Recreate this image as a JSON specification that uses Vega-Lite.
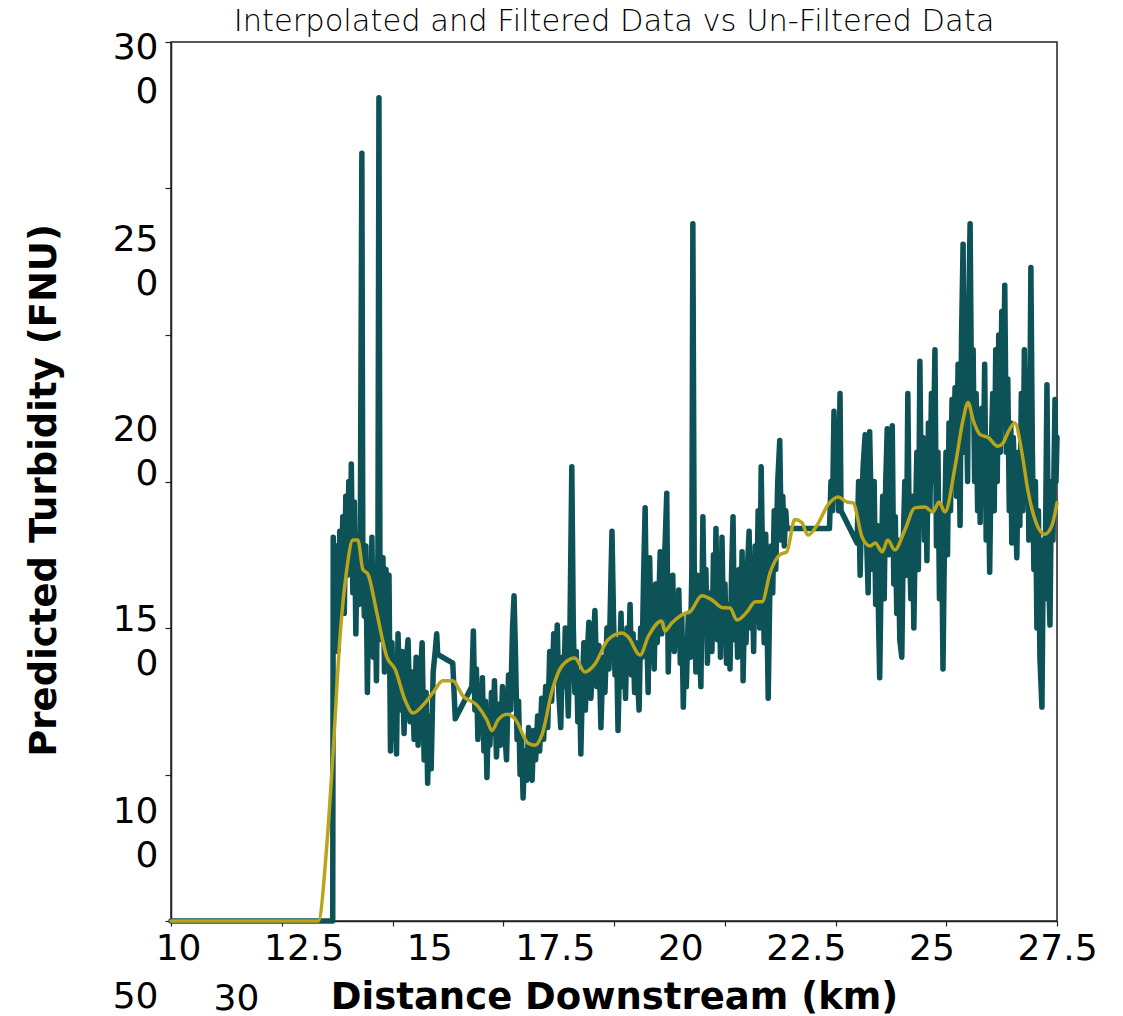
{
  "$schema": "https://vega.github.io/schema/vega-lite/v6.json",
  "width": 886,
  "height": 879,
  "autosize": {"type": "none"},
  "padding": {"left": 171, "top": 42, "right": 66, "bottom": 95},
  "background": "white",
  "title": {
    "text": "Interpolated and Filtered Data vs Un-Filtered Data",
    "font": "DejaVu Sans",
    "fontSize": 30.5,
    "fontWeight": 200,
    "color": "#000",
    "anchor": "middle",
    "frame": "group",
    "baseline": "alphabetic",
    "offset": -37
  },
  "datasets": {
    "raw": [
      {"distance_km":9.86,"turbidity_fnu":0},{"distance_km":13.08,"turbidity_fnu":0},{"distance_km":13.09,"turbidity_fnu":131},
      {"distance_km":13.12,"turbidity_fnu":100},{"distance_km":13.15,"turbidity_fnu":128},{"distance_km":13.18,"turbidity_fnu":92},
      {"distance_km":13.22,"turbidity_fnu":133},{"distance_km":13.25,"turbidity_fnu":112},{"distance_km":13.28,"turbidity_fnu":138},
      {"distance_km":13.31,"turbidity_fnu":105},{"distance_km":13.34,"turbidity_fnu":145},{"distance_km":13.37,"turbidity_fnu":118},
      {"distance_km":13.40,"turbidity_fnu":150},{"distance_km":13.43,"turbidity_fnu":125},{"distance_km":13.45,"turbidity_fnu":156},
      {"distance_km":13.48,"turbidity_fnu":112},{"distance_km":13.51,"turbidity_fnu":143},{"distance_km":13.54,"turbidity_fnu":98},
      {"distance_km":13.57,"turbidity_fnu":130},{"distance_km":13.60,"turbidity_fnu":108},{"distance_km":13.63,"turbidity_fnu":135},
      {"distance_km":13.66,"turbidity_fnu":262},{"distance_km":13.68,"turbidity_fnu":120},{"distance_km":13.71,"turbidity_fnu":104},
      {"distance_km":13.74,"turbidity_fnu":128},{"distance_km":13.77,"turbidity_fnu":78},{"distance_km":13.80,"turbidity_fnu":115},
      {"distance_km":13.83,"turbidity_fnu":95},{"distance_km":13.86,"turbidity_fnu":131},{"distance_km":13.89,"turbidity_fnu":90},
      {"distance_km":13.92,"turbidity_fnu":118},{"distance_km":13.95,"turbidity_fnu":82},{"distance_km":13.98,"turbidity_fnu":126},
      {"distance_km":14.00,"turbidity_fnu":281},{"distance_km":14.02,"turbidity_fnu":118},{"distance_km":14.05,"turbidity_fnu":96},
      {"distance_km":14.08,"turbidity_fnu":124},{"distance_km":14.11,"turbidity_fnu":85},{"distance_km":14.14,"turbidity_fnu":120},
      {"distance_km":14.17,"turbidity_fnu":88},{"distance_km":14.20,"turbidity_fnu":118},{"distance_km":14.23,"turbidity_fnu":58},
      {"distance_km":14.26,"turbidity_fnu":95},{"distance_km":14.29,"turbidity_fnu":62},{"distance_km":14.32,"turbidity_fnu":90},
      {"distance_km":14.35,"turbidity_fnu":57},{"distance_km":14.38,"turbidity_fnu":98},{"distance_km":14.42,"turbidity_fnu":72},
      {"distance_km":14.46,"turbidity_fnu":92},{"distance_km":14.50,"turbidity_fnu":64},{"distance_km":14.54,"turbidity_fnu":88},
      {"distance_km":14.58,"turbidity_fnu":96},{"distance_km":14.62,"turbidity_fnu":68},{"distance_km":14.66,"turbidity_fnu":85},
      {"distance_km":14.70,"turbidity_fnu":62},{"distance_km":14.74,"turbidity_fnu":90},{"distance_km":14.78,"turbidity_fnu":60},
      {"distance_km":14.82,"turbidity_fnu":82},{"distance_km":14.86,"turbidity_fnu":95},{"distance_km":14.90,"turbidity_fnu":55},
      {"distance_km":14.94,"turbidity_fnu":78},{"distance_km":14.97,"turbidity_fnu":47},{"distance_km":15.00,"turbidity_fnu":70},
      {"distance_km":15.04,"turbidity_fnu":52},{"distance_km":15.08,"turbidity_fnu":85},{"distance_km":15.12,"turbidity_fnu":92},
      {"distance_km":15.15,"turbidity_fnu":98},{"distance_km":15.17,"turbidity_fnu":91},{"distance_km":15.47,"turbidity_fnu":88},
      {"distance_km":15.52,"turbidity_fnu":69},{"distance_km":15.85,"turbidity_fnu":80},{"distance_km":15.88,"turbidity_fnu":99},
      {"distance_km":15.91,"turbidity_fnu":72},{"distance_km":15.94,"turbidity_fnu":86},{"distance_km":15.97,"turbidity_fnu":62},
      {"distance_km":16.00,"turbidity_fnu":80},{"distance_km":16.03,"turbidity_fnu":66},{"distance_km":16.06,"turbidity_fnu":83},
      {"distance_km":16.09,"turbidity_fnu":58},{"distance_km":16.12,"turbidity_fnu":75},{"distance_km":16.15,"turbidity_fnu":49},
      {"distance_km":16.18,"turbidity_fnu":70},{"distance_km":16.21,"turbidity_fnu":60},{"distance_km":16.24,"turbidity_fnu":78},
      {"distance_km":16.27,"turbidity_fnu":64},{"distance_km":16.30,"turbidity_fnu":82},{"distance_km":16.34,"turbidity_fnu":56},
      {"distance_km":16.38,"turbidity_fnu":74},{"distance_km":16.42,"turbidity_fnu":60},{"distance_km":16.46,"turbidity_fnu":80},
      {"distance_km":16.50,"turbidity_fnu":66},{"distance_km":16.54,"turbidity_fnu":55},{"distance_km":16.58,"turbidity_fnu":84},
      {"distance_km":16.62,"turbidity_fnu":72},{"distance_km":16.66,"turbidity_fnu":100},{"distance_km":16.69,"turbidity_fnu":111},
      {"distance_km":16.72,"turbidity_fnu":90},{"distance_km":16.75,"turbidity_fnu":62},{"distance_km":16.78,"turbidity_fnu":75},
      {"distance_km":16.81,"turbidity_fnu":50},{"distance_km":16.84,"turbidity_fnu":62},{"distance_km":16.87,"turbidity_fnu":42},
      {"distance_km":16.90,"turbidity_fnu":58},{"distance_km":16.94,"turbidity_fnu":48},{"distance_km":16.98,"turbidity_fnu":66},
      {"distance_km":17.02,"turbidity_fnu":52},{"distance_km":17.05,"turbidity_fnu":48},{"distance_km":17.08,"turbidity_fnu":65},
      {"distance_km":17.12,"turbidity_fnu":55},{"distance_km":17.16,"turbidity_fnu":70},{"distance_km":17.20,"turbidity_fnu":58},
      {"distance_km":17.24,"turbidity_fnu":76},{"distance_km":17.28,"turbidity_fnu":62},{"distance_km":17.32,"turbidity_fnu":80},
      {"distance_km":17.36,"turbidity_fnu":66},{"distance_km":17.40,"turbidity_fnu":92},{"distance_km":17.44,"turbidity_fnu":75},
      {"distance_km":17.48,"turbidity_fnu":98},{"distance_km":17.52,"turbidity_fnu":84},{"distance_km":17.55,"turbidity_fnu":101},
      {"distance_km":17.58,"turbidity_fnu":78},{"distance_km":17.62,"turbidity_fnu":66},{"distance_km":17.65,"turbidity_fnu":90},
      {"distance_km":17.68,"turbidity_fnu":80},{"distance_km":17.71,"turbidity_fnu":100},{"distance_km":17.74,"turbidity_fnu":86},
      {"distance_km":17.77,"turbidity_fnu":70},{"distance_km":17.80,"turbidity_fnu":95},{"distance_km":17.84,"turbidity_fnu":155},
      {"distance_km":17.87,"turbidity_fnu":100},{"distance_km":17.90,"turbidity_fnu":78},{"distance_km":17.93,"turbidity_fnu":92},
      {"distance_km":17.96,"turbidity_fnu":68},{"distance_km":17.99,"turbidity_fnu":85},{"distance_km":18.02,"turbidity_fnu":57},
      {"distance_km":18.05,"turbidity_fnu":80},{"distance_km":18.08,"turbidity_fnu":95},{"distance_km":18.11,"turbidity_fnu":72},
      {"distance_km":18.14,"turbidity_fnu":88},{"distance_km":18.18,"turbidity_fnu":102},{"distance_km":18.22,"turbidity_fnu":76},
      {"distance_km":18.26,"turbidity_fnu":92},{"distance_km":18.30,"turbidity_fnu":106},{"distance_km":18.34,"turbidity_fnu":80},
      {"distance_km":18.38,"turbidity_fnu":94},{"distance_km":18.42,"turbidity_fnu":66},{"distance_km":18.46,"turbidity_fnu":90},
      {"distance_km":18.50,"turbidity_fnu":78},{"distance_km":18.54,"turbidity_fnu":100},{"distance_km":18.58,"turbidity_fnu":86},
      {"distance_km":18.62,"turbidity_fnu":118},{"distance_km":18.64,"turbidity_fnu":133},{"distance_km":18.67,"turbidity_fnu":104},
      {"distance_km":18.70,"turbidity_fnu":84},{"distance_km":18.73,"turbidity_fnu":96},{"distance_km":18.76,"turbidity_fnu":65},
      {"distance_km":18.79,"turbidity_fnu":88},{"distance_km":18.82,"turbidity_fnu":105},{"distance_km":18.85,"turbidity_fnu":80},
      {"distance_km":18.88,"turbidity_fnu":96},{"distance_km":18.91,"turbidity_fnu":76},{"distance_km":18.94,"turbidity_fnu":100},
      {"distance_km":18.97,"turbidity_fnu":88},{"distance_km":19.00,"turbidity_fnu":108},{"distance_km":19.03,"turbidity_fnu":84},
      {"distance_km":19.06,"turbidity_fnu":98},{"distance_km":19.09,"turbidity_fnu":78},{"distance_km":19.12,"turbidity_fnu":95},
      {"distance_km":19.15,"turbidity_fnu":82},{"distance_km":19.18,"turbidity_fnu":72},{"distance_km":19.21,"turbidity_fnu":100},
      {"distance_km":19.24,"turbidity_fnu":90},{"distance_km":19.27,"turbidity_fnu":118},{"distance_km":19.30,"turbidity_fnu":141},
      {"distance_km":19.33,"turbidity_fnu":100},{"distance_km":19.36,"turbidity_fnu":78},{"distance_km":19.39,"turbidity_fnu":124},
      {"distance_km":19.42,"turbidity_fnu":95},{"distance_km":19.45,"turbidity_fnu":110},{"distance_km":19.48,"turbidity_fnu":86},
      {"distance_km":19.51,"turbidity_fnu":115},{"distance_km":19.54,"turbidity_fnu":95},{"distance_km":19.57,"turbidity_fnu":108},
      {"distance_km":19.60,"turbidity_fnu":126},{"distance_km":19.63,"turbidity_fnu":98},{"distance_km":19.66,"turbidity_fnu":112},
      {"distance_km":19.70,"turbidity_fnu":130},{"distance_km":19.73,"turbidity_fnu":146},{"distance_km":19.76,"turbidity_fnu":85},
      {"distance_km":19.79,"turbidity_fnu":108},{"distance_km":19.82,"turbidity_fnu":96},{"distance_km":19.85,"turbidity_fnu":118},
      {"distance_km":19.88,"turbidity_fnu":92},{"distance_km":19.91,"turbidity_fnu":110},{"distance_km":19.94,"turbidity_fnu":100},
      {"distance_km":19.97,"turbidity_fnu":113},{"distance_km":20.00,"turbidity_fnu":88},{"distance_km":20.03,"turbidity_fnu":104},
      {"distance_km":20.06,"turbidity_fnu":73},{"distance_km":20.09,"turbidity_fnu":96},{"distance_km":20.12,"turbidity_fnu":80},
      {"distance_km":20.16,"turbidity_fnu":105},{"distance_km":20.20,"turbidity_fnu":90},{"distance_km":20.23,"turbidity_fnu":120},
      {"distance_km":20.25,"turbidity_fnu":238},{"distance_km":20.28,"turbidity_fnu":110},{"distance_km":20.31,"turbidity_fnu":85},
      {"distance_km":20.34,"turbidity_fnu":118},{"distance_km":20.38,"turbidity_fnu":95},{"distance_km":20.41,"turbidity_fnu":80},
      {"distance_km":20.45,"turbidity_fnu":138},{"distance_km":20.48,"turbidity_fnu":100},{"distance_km":20.51,"turbidity_fnu":120},
      {"distance_km":20.54,"turbidity_fnu":88},{"distance_km":20.57,"turbidity_fnu":112},{"distance_km":20.60,"turbidity_fnu":98},
      {"distance_km":20.63,"turbidity_fnu":92},{"distance_km":20.66,"turbidity_fnu":125},{"distance_km":20.69,"turbidity_fnu":105},
      {"distance_km":20.71,"turbidity_fnu":134},{"distance_km":20.74,"turbidity_fnu":96},{"distance_km":20.77,"turbidity_fnu":120},
      {"distance_km":20.80,"turbidity_fnu":90},{"distance_km":20.83,"turbidity_fnu":131},{"distance_km":20.86,"turbidity_fnu":100},
      {"distance_km":20.89,"turbidity_fnu":115},{"distance_km":20.92,"turbidity_fnu":88},{"distance_km":20.95,"turbidity_fnu":108},
      {"distance_km":20.99,"turbidity_fnu":86},{"distance_km":21.02,"turbidity_fnu":118},{"distance_km":21.05,"turbidity_fnu":138},
      {"distance_km":21.08,"turbidity_fnu":96},{"distance_km":21.11,"turbidity_fnu":112},{"distance_km":21.14,"turbidity_fnu":90},
      {"distance_km":21.17,"turbidity_fnu":120},{"distance_km":21.20,"turbidity_fnu":100},{"distance_km":21.23,"turbidity_fnu":126},
      {"distance_km":21.25,"turbidity_fnu":82},{"distance_km":21.28,"turbidity_fnu":108},{"distance_km":21.31,"turbidity_fnu":95},
      {"distance_km":21.34,"turbidity_fnu":122},{"distance_km":21.37,"turbidity_fnu":133},{"distance_km":21.40,"turbidity_fnu":100},
      {"distance_km":21.43,"turbidity_fnu":118},{"distance_km":21.46,"turbidity_fnu":92},{"distance_km":21.49,"turbidity_fnu":128},
      {"distance_km":21.52,"turbidity_fnu":110},{"distance_km":21.55,"turbidity_fnu":140},{"distance_km":21.58,"turbidity_fnu":100},
      {"distance_km":21.61,"turbidity_fnu":155},{"distance_km":21.64,"turbidity_fnu":120},{"distance_km":21.67,"turbidity_fnu":95},
      {"distance_km":21.70,"turbidity_fnu":132},{"distance_km":21.73,"turbidity_fnu":100},{"distance_km":21.75,"turbidity_fnu":76},
      {"distance_km":21.78,"turbidity_fnu":110},{"distance_km":21.81,"turbidity_fnu":128},{"distance_km":21.84,"turbidity_fnu":112},
      {"distance_km":21.87,"turbidity_fnu":140},{"distance_km":21.90,"turbidity_fnu":120},{"distance_km":21.94,"turbidity_fnu":150},
      {"distance_km":21.98,"turbidity_fnu":164},{"distance_km":22.01,"turbidity_fnu":130},{"distance_km":22.04,"turbidity_fnu":145},
      {"distance_km":22.07,"turbidity_fnu":128},{"distance_km":22.10,"turbidity_fnu":140},{"distance_km":22.12,"turbidity_fnu":134},
      {"distance_km":22.97,"turbidity_fnu":134},{"distance_km":23.00,"turbidity_fnu":150},{"distance_km":23.03,"turbidity_fnu":140},
      {"distance_km":23.06,"turbidity_fnu":174},{"distance_km":23.09,"turbidity_fnu":145},{"distance_km":23.12,"turbidity_fnu":160},
      {"distance_km":23.15,"turbidity_fnu":140},{"distance_km":23.18,"turbidity_fnu":180},{"distance_km":23.20,"turbidity_fnu":140},
      {"distance_km":23.52,"turbidity_fnu":129},{"distance_km":23.55,"turbidity_fnu":150},{"distance_km":23.58,"turbidity_fnu":118},
      {"distance_km":23.61,"turbidity_fnu":140},{"distance_km":23.64,"turbidity_fnu":155},{"distance_km":23.68,"turbidity_fnu":166},
      {"distance_km":23.71,"turbidity_fnu":130},{"distance_km":23.74,"turbidity_fnu":112},{"distance_km":23.77,"turbidity_fnu":167},
      {"distance_km":23.80,"turbidity_fnu":140},{"distance_km":23.83,"turbidity_fnu":120},{"distance_km":23.86,"turbidity_fnu":150},
      {"distance_km":23.89,"turbidity_fnu":108},{"distance_km":23.92,"turbidity_fnu":135},{"distance_km":23.95,"turbidity_fnu":100},
      {"distance_km":23.97,"turbidity_fnu":83},{"distance_km":24.00,"turbidity_fnu":120},{"distance_km":24.03,"turbidity_fnu":145},
      {"distance_km":24.06,"turbidity_fnu":110},{"distance_km":24.09,"turbidity_fnu":150},{"distance_km":24.12,"turbidity_fnu":168},
      {"distance_km":24.15,"turbidity_fnu":125},{"distance_km":24.18,"turbidity_fnu":140},{"distance_km":24.22,"turbidity_fnu":169},
      {"distance_km":24.25,"turbidity_fnu":115},{"distance_km":24.28,"turbidity_fnu":138},{"distance_km":24.31,"turbidity_fnu":105},
      {"distance_km":24.34,"turbidity_fnu":130},{"distance_km":24.37,"turbidity_fnu":96},{"distance_km":24.41,"turbidity_fnu":90},
      {"distance_km":24.44,"turbidity_fnu":130},{"distance_km":24.47,"turbidity_fnu":150},{"distance_km":24.50,"turbidity_fnu":118},
      {"distance_km":24.53,"turbidity_fnu":180},{"distance_km":24.56,"turbidity_fnu":130},{"distance_km":24.59,"turbidity_fnu":110},
      {"distance_km":24.62,"turbidity_fnu":145},{"distance_km":24.65,"turbidity_fnu":100},{"distance_km":24.68,"turbidity_fnu":135},
      {"distance_km":24.71,"turbidity_fnu":160},{"distance_km":24.74,"turbidity_fnu":120},{"distance_km":24.77,"turbidity_fnu":191},
      {"distance_km":24.80,"turbidity_fnu":140},{"distance_km":24.83,"turbidity_fnu":165},{"distance_km":24.86,"turbidity_fnu":130},
      {"distance_km":24.89,"turbidity_fnu":150},{"distance_km":24.91,"turbidity_fnu":123},{"distance_km":24.94,"turbidity_fnu":170},
      {"distance_km":24.97,"turbidity_fnu":140},{"distance_km":25.00,"turbidity_fnu":180},{"distance_km":25.03,"turbidity_fnu":150},
      {"distance_km":25.07,"turbidity_fnu":195},{"distance_km":25.10,"turbidity_fnu":128},{"distance_km":25.13,"turbidity_fnu":160},
      {"distance_km":25.16,"turbidity_fnu":110},{"distance_km":25.20,"turbidity_fnu":140},{"distance_km":25.23,"turbidity_fnu":86},
      {"distance_km":25.26,"turbidity_fnu":130},{"distance_km":25.29,"turbidity_fnu":160},{"distance_km":25.32,"turbidity_fnu":125},
      {"distance_km":25.35,"turbidity_fnu":170},{"distance_km":25.38,"turbidity_fnu":140},{"distance_km":25.41,"turbidity_fnu":178},
      {"distance_km":25.44,"turbidity_fnu":150},{"distance_km":25.47,"turbidity_fnu":182},{"distance_km":25.50,"turbidity_fnu":145},
      {"distance_km":25.53,"turbidity_fnu":190},{"distance_km":25.57,"turbidity_fnu":135},{"distance_km":25.60,"turbidity_fnu":200},
      {"distance_km":25.63,"turbidity_fnu":231},{"distance_km":25.66,"turbidity_fnu":160},{"distance_km":25.69,"turbidity_fnu":185},
      {"distance_km":25.72,"turbidity_fnu":150},{"distance_km":25.74,"turbidity_fnu":205},{"distance_km":25.77,"turbidity_fnu":238},
      {"distance_km":25.80,"turbidity_fnu":175},{"distance_km":25.83,"turbidity_fnu":195},{"distance_km":25.86,"turbidity_fnu":150},
      {"distance_km":25.89,"turbidity_fnu":180},{"distance_km":25.92,"turbidity_fnu":140},{"distance_km":25.95,"turbidity_fnu":170},
      {"distance_km":25.97,"turbidity_fnu":136},{"distance_km":26.00,"turbidity_fnu":175},{"distance_km":26.03,"turbidity_fnu":150},
      {"distance_km":26.06,"turbidity_fnu":190},{"distance_km":26.09,"turbidity_fnu":130},{"distance_km":26.12,"turbidity_fnu":165},
      {"distance_km":26.16,"turbidity_fnu":119},{"distance_km":26.19,"turbidity_fnu":160},{"distance_km":26.22,"turbidity_fnu":180},
      {"distance_km":26.25,"turbidity_fnu":140},{"distance_km":26.28,"turbidity_fnu":195},{"distance_km":26.31,"turbidity_fnu":150},
      {"distance_km":26.34,"turbidity_fnu":200},{"distance_km":26.37,"turbidity_fnu":160},{"distance_km":26.40,"turbidity_fnu":208},
      {"distance_km":26.43,"turbidity_fnu":175},{"distance_km":26.46,"turbidity_fnu":217},{"distance_km":26.49,"turbidity_fnu":160},
      {"distance_km":26.52,"turbidity_fnu":185},{"distance_km":26.55,"turbidity_fnu":140},{"distance_km":26.58,"turbidity_fnu":170},
      {"distance_km":26.60,"turbidity_fnu":129},{"distance_km":26.63,"turbidity_fnu":165},{"distance_km":26.66,"turbidity_fnu":150},
      {"distance_km":26.70,"turbidity_fnu":124},{"distance_km":26.73,"turbidity_fnu":160},{"distance_km":26.76,"turbidity_fnu":135},
      {"distance_km":26.79,"turbidity_fnu":180},{"distance_km":26.82,"turbidity_fnu":140},{"distance_km":26.85,"turbidity_fnu":195},
      {"distance_km":26.88,"turbidity_fnu":150},{"distance_km":26.91,"turbidity_fnu":175},{"distance_km":26.94,"turbidity_fnu":130},
      {"distance_km":26.98,"turbidity_fnu":223},{"distance_km":27.01,"turbidity_fnu":160},{"distance_km":27.04,"turbidity_fnu":120},
      {"distance_km":27.07,"turbidity_fnu":150},{"distance_km":27.10,"turbidity_fnu":100},{"distance_km":27.13,"turbidity_fnu":140},
      {"distance_km":27.16,"turbidity_fnu":90},{"distance_km":27.20,"turbidity_fnu":73},{"distance_km":27.23,"turbidity_fnu":130},
      {"distance_km":27.26,"turbidity_fnu":110},{"distance_km":27.30,"turbidity_fnu":183},{"distance_km":27.33,"turbidity_fnu":120},
      {"distance_km":27.36,"turbidity_fnu":101},{"distance_km":27.39,"turbidity_fnu":150},{"distance_km":27.42,"turbidity_fnu":130},
      {"distance_km":27.46,"turbidity_fnu":178},{"distance_km":27.48,"turbidity_fnu":150},{"distance_km":27.50,"turbidity_fnu":165}
    ],
    "filtered": [
      {"distance_km":9.86,"turbidity_fnu":0},{"distance_km":12.79,"turbidity_fnu":0},{"distance_km":12.97,"turbidity_fnu":27.6},
      {"distance_km":13.085,"turbidity_fnu":57},{"distance_km":13.225,"turbidity_fnu":97},{"distance_km":13.36,"turbidity_fnu":120},
      {"distance_km":13.48,"turbidity_fnu":130},{"distance_km":13.58,"turbidity_fnu":130},{"distance_km":13.68,"turbidity_fnu":120},
      {"distance_km":13.78,"turbidity_fnu":118.4},{"distance_km":13.96,"turbidity_fnu":105},{"distance_km":14.16,"turbidity_fnu":90},
      {"distance_km":14.32,"turbidity_fnu":86},{"distance_km":14.52,"turbidity_fnu":75.4},{"distance_km":14.68,"turbidity_fnu":71},
      {"distance_km":14.88,"turbidity_fnu":73.7},{"distance_km":15.08,"turbidity_fnu":78},{"distance_km":15.27,"turbidity_fnu":82},
      {"distance_km":15.47,"turbidity_fnu":82},{"distance_km":15.67,"turbidity_fnu":76.8},{"distance_km":15.95,"turbidity_fnu":73.7},
      {"distance_km":16.15,"turbidity_fnu":68.6},{"distance_km":16.25,"turbidity_fnu":65},{"distance_km":16.37,"turbidity_fnu":68.6},
      {"distance_km":16.55,"turbidity_fnu":70.6},{"distance_km":16.71,"turbidity_fnu":69},{"distance_km":16.97,"turbidity_fnu":60.7},
      {"distance_km":17.11,"turbidity_fnu":60},{"distance_km":17.25,"turbidity_fnu":63.8},{"distance_km":17.45,"turbidity_fnu":78.8},
      {"distance_km":17.64,"turbidity_fnu":87},{"distance_km":17.9,"turbidity_fnu":89.8},{"distance_km":18.1,"turbidity_fnu":85},
      {"distance_km":18.3,"turbidity_fnu":87.7},{"distance_km":18.56,"turbidity_fnu":96},{"distance_km":18.84,"turbidity_fnu":98.3},
      {"distance_km":18.96,"turbidity_fnu":97},{"distance_km":19.2,"turbidity_fnu":90.8},{"distance_km":19.36,"turbidity_fnu":97},
      {"distance_km":19.63,"turbidity_fnu":102.4},{"distance_km":19.69,"turbidity_fnu":99},{"distance_km":19.83,"turbidity_fnu":101.7},
      {"distance_km":20.09,"turbidity_fnu":105},{"distance_km":20.19,"turbidity_fnu":105.5},{"distance_km":20.43,"turbidity_fnu":111},
      {"distance_km":20.63,"turbidity_fnu":109.6},{"distance_km":20.83,"turbidity_fnu":107},{"distance_km":20.99,"turbidity_fnu":106.8},
      {"distance_km":21.13,"turbidity_fnu":102.7},{"distance_km":21.33,"turbidity_fnu":105.5},{"distance_km":21.49,"turbidity_fnu":109},
      {"distance_km":21.63,"turbidity_fnu":109},{"distance_km":21.79,"turbidity_fnu":119},{"distance_km":21.98,"turbidity_fnu":125},
      {"distance_km":22.12,"turbidity_fnu":126},{"distance_km":22.28,"turbidity_fnu":137},{"distance_km":22.42,"turbidity_fnu":136},
      {"distance_km":22.54,"turbidity_fnu":131.7},{"distance_km":22.72,"turbidity_fnu":135},{"distance_km":22.94,"turbidity_fnu":142},
      {"distance_km":23.14,"turbidity_fnu":144.7},{"distance_km":23.32,"turbidity_fnu":143},{"distance_km":23.44,"turbidity_fnu":142.7},
      {"distance_km":23.62,"turbidity_fnu":131},{"distance_km":23.78,"turbidity_fnu":128},{"distance_km":23.88,"turbidity_fnu":129},
      {"distance_km":24.02,"turbidity_fnu":126},{"distance_km":24.13,"turbidity_fnu":130},{"distance_km":24.27,"turbidity_fnu":126.6},
      {"distance_km":24.47,"turbidity_fnu":133.4},{"distance_km":24.67,"turbidity_fnu":141},{"distance_km":24.87,"turbidity_fnu":141.3},
      {"distance_km":25.03,"turbidity_fnu":139.6},{"distance_km":25.15,"turbidity_fnu":143},{"distance_km":25.27,"turbidity_fnu":139.6},
      {"distance_km":25.47,"turbidity_fnu":155},{"distance_km":25.63,"turbidity_fnu":171},{"distance_km":25.73,"turbidity_fnu":177},
      {"distance_km":25.83,"turbidity_fnu":171},{"distance_km":25.97,"turbidity_fnu":166},{"distance_km":26.13,"turbidity_fnu":165},
      {"distance_km":26.32,"turbidity_fnu":162},{"distance_km":26.42,"turbidity_fnu":163},{"distance_km":26.52,"turbidity_fnu":166.6},
      {"distance_km":26.66,"turbidity_fnu":170},{"distance_km":26.8,"turbidity_fnu":160},{"distance_km":26.92,"turbidity_fnu":147},
      {"distance_km":27.12,"turbidity_fnu":134.5},{"distance_km":27.26,"turbidity_fnu":132},{"distance_km":27.4,"turbidity_fnu":135},
      {"distance_km":27.5,"turbidity_fnu":142.7}
    ]
  },
  "layer": [
    {
      "data": {"name": "raw"},
      "mark": {"type": "line", "color": "#0c5257", "strokeWidth": 5.5, "strokeCap": "round", "strokeJoin": "round"},
      "encoding": {
        "x": {
          "field": "distance_km", "type": "quantitative",
          "scale": {"domain": [9.86, 27.5], "nice": false, "zero": false},
          "axis": {
            "orient": "bottom",
            "values": [9.86, 12.065, 14.27, 16.475, 18.68, 20.885, 23.09, 25.295, 27.5],
            "labels": false, "ticks": true, "tickSize": 5, "tickColor": "#222", "tickWidth": 1.2,
            "domain": true, "domainColor": "#222", "domainWidth": 1.5, "grid": false, "title": null
          }
        },
        "y": {
          "field": "turbidity_fnu", "type": "quantitative",
          "scale": {"domain": [0, 300], "nice": false, "zero": false},
          "axis": {
            "orient": "left",
            "values": [0, 50, 100, 150, 200, 250, 300],
            "labels": true,
            "labelExpr": "datum.value === 0 ? ['\u00a0', '50'] : ''",
            "labelFont": "DejaVu Sans", "labelFontSize": 36, "labelColor": "#000",
            "labelBaseline": "middle", "labelAlign": "right", "labelLineHeight": 75,
            "labelPadding": 7, "labelFlush": false, "labelOverlap": false, "labelBound": false,
            "ticks": true, "tickSize": 6, "tickColor": "#222", "tickWidth": 1.2,
            "domain": true, "domainColor": "#222", "domainWidth": 1.5, "grid": false, "title": null
          }
        }
      }
    },
    {
      "data": {"name": "filtered"},
      "mark": {"type": "line", "color": "#b9a41c", "strokeWidth": 3.5, "strokeCap": "round", "strokeJoin": "round", "interpolate": "monotone"},
      "encoding": {
        "x": {
          "field": "distance_km", "type": "quantitative",
          "axis": {
            "orient": "bottom",
            "values": [10, 11.154, 12.5, 15, 17.5, 20, 22.5, 25, 27.5],
            "labelExpr": "datum.value > 11 && datum.value < 12 ? ['\u00a0', '30'] : format(datum.value, '~g')",
            "ticks": false, "tickSize": 0, "domain": false, "grid": false,
            "labelFont": "DejaVu Sans", "labelFontSize": 36, "labelColor": "#000",
            "labelPadding": 10, "labelLineHeight": 50, "labelFlush": false, "labelOverlap": false, "labelBound": false,
            "title": "Distance Downstream (km)",
            "titleFont": "DejaVu Sans", "titleFontSize": 37, "titleFontWeight": "bold", "titleColor": "#000",
            "titleBaseline": "alphabetic", "titleY": 87
          }
        },
        "y": {
          "field": "turbidity_fnu", "type": "quantitative",
          "axis": {
            "orient": "left",
            "values": [298.2, 232.7, 167.8, 103.0, 37.4],
            "labelExpr": "datum.value > 280 ? ['30','0'] : datum.value > 200 ? ['25','0'] : datum.value > 150 ? ['20','0'] : datum.value > 80 ? ['15','0'] : ['10','0']",
            "ticks": false, "tickSize": 0, "domain": false, "grid": false,
            "labelFont": "DejaVu Sans", "labelFontSize": 36, "labelColor": "#000",
            "labelBaseline": "middle", "labelAlign": "right",
            "labelPadding": 13, "labelLineHeight": 44, "labelFlush": false, "labelOverlap": false, "labelBound": false,
            "title": "Predicted Turbidity (FNU)",
            "titleFont": "DejaVu Sans", "titleFontSize": 37, "titleFontWeight": "bold", "titleColor": "#000",
            "titleBaseline": "alphabetic", "titleX": -116, "titleY": 448
          }
        }
      }
    }
  ],
  "resolve": {"axis": {"x": "independent", "y": "independent"}},
  "config": {
    "view": {"stroke": "#222", "strokeWidth": 1.5},
    "axis": {"grid": false}
  }
}
